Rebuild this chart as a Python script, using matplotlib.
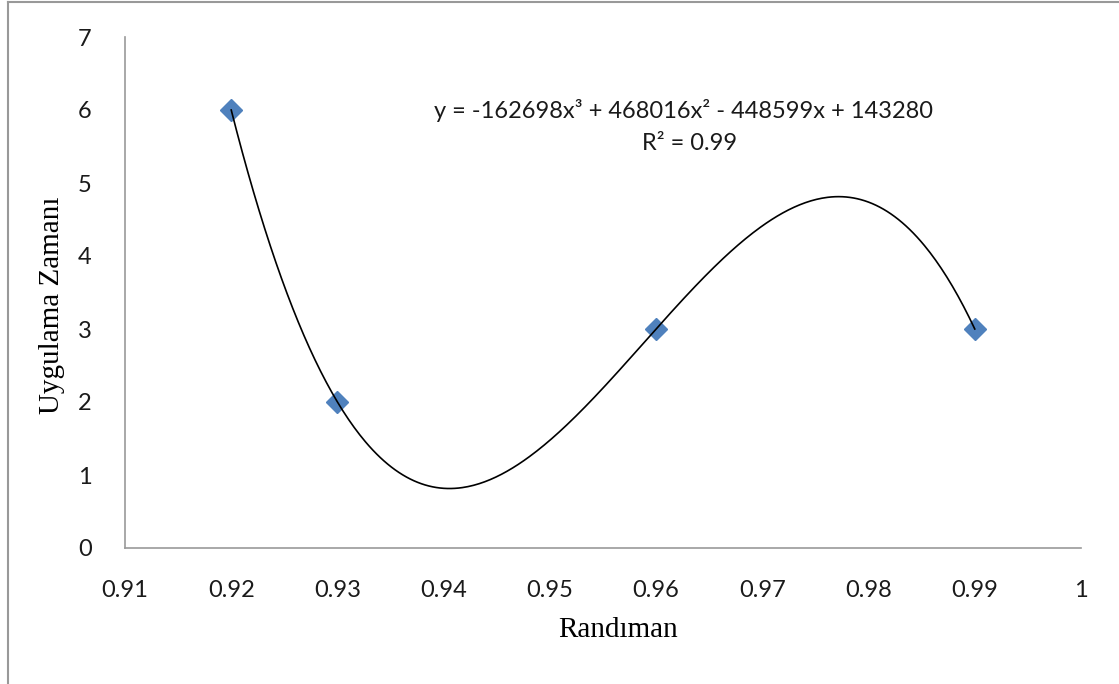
import numpy as np
import matplotlib.pyplot as plt
from matplotlib.lines import Line2D

# --- data ---
randiman = [0.92, 0.93, 0.96, 0.99]
uygulama_zamani = [6, 2, 3, 3]
x_ticks = [0.91, 0.92, 0.93, 0.94, 0.95, 0.96, 0.97, 0.98, 0.99, 1.0]
x_tick_labels = ["0.91", "0.92", "0.93", "0.94", "0.95", "0.96", "0.97", "0.98", "0.99", "1"]
y_ticks = [0, 1, 2, 3, 4, 5, 6, 7]
equation = "y = -162698x³ + 468016x² - 448599x + 143280"
r_squared = "R² = 0.99"

# --- cubic trendline (polynomial fit of the points) ---
coef = np.polyfit(randiman, uygulama_zamani, 3)
xs = np.linspace(min(randiman), max(randiman), 400)
ys = np.polyval(coef, xs)

W, H = 1119, 684
fig = plt.figure(figsize=(W / 100, H / 100), dpi=100)
ax = fig.add_axes([125 / W, (H - 548) / H, (1081 - 125) / W, (548 - 37) / H])

ax.plot(randiman, uygulama_zamani, linestyle="none", marker="D",
        markersize=11.5, color="#4F81BD", zorder=2)
ax.plot(xs, ys, color="black", linewidth=1.2, zorder=3)

ax.set_xlim(0.91, 1.0)
ax.set_ylim(0, 7)
ax.set_xticks(x_ticks)
ax.set_xticklabels(x_tick_labels)
ax.set_yticks(y_ticks)

sans = ["Lato", "DejaVu Sans"]
for lab in ax.get_xticklabels() + ax.get_yticklabels():
    lab.set_fontfamily(sans)
    lab.set_fontsize(17)
    lab.set_color("#1a1a1a")
ax.tick_params(length=0)
ax.tick_params(axis="x", pad=23)
ax.tick_params(axis="y", pad=24)

for side in ["top", "right"]:
    ax.spines[side].set_visible(False)
for side in ["left", "bottom"]:
    ax.spines[side].set_color("#999999")
    ax.spines[side].set_linewidth(1.2)

fig.text(683 / W, 1 - 110 / H, equation, ha="center", va="center",
         fontsize=17, family=sans, color="#1a1a1a")
fig.text(690 / W, 1 - 143 / H, r_squared, ha="center", va="center",
         fontsize=17, family=sans, color="#1a1a1a")

fig.text(618 / W, 1 - 630 / H, "Randıman", ha="center", va="center",
         fontsize=21, family="Liberation Serif")
fig.text(52 / W, 1 - 305 / H, "Uygulama Zamanı", ha="center", va="center",
         rotation=90, fontsize=21, family="Liberation Serif")

# outer chart frame (top and left edges visible)
fig.add_artist(Line2D([8 / W, 1.0], [1 - 2 / H, 1 - 2 / H], color="#999999", linewidth=1.5))
fig.add_artist(Line2D([8 / W, 8 / W], [0, 1 - 2 / H], color="#999999", linewidth=1.5))

fig.savefig("out.png", dpi=100)
